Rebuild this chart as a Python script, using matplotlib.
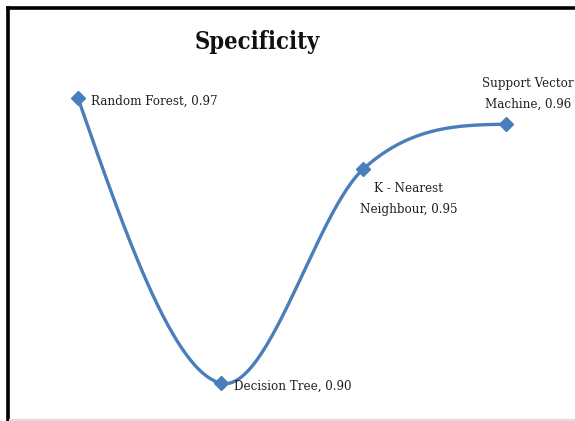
import numpy as np
import matplotlib
matplotlib.use("Agg")
import matplotlib.pyplot as plt
from matplotlib.lines import Line2D

models = ["Random Forest", "Decision Tree", "K - Nearest\nNeighbour", "Support Vector\nMachine"]
specificity = [0.970, 0.900, 0.9526, 0.9636]

BLUE = "#4a7ebb"
W, H = 575, 421

plt.rcParams["font.family"] = ["DejaVu Serif", "Liberation Serif"]
plt.rcParams["font.stretch"] = "condensed"


def smooth_curve(xs, ys, steps=60):
    # cubic Hermite pieces: central-difference tangents inside, natural ends
    pts = np.column_stack([xs, ys]).astype(float)
    n = len(pts)
    m = np.zeros_like(pts)
    for i in range(1, n - 1):
        m[i] = (pts[i + 1] - pts[i - 1]) / 2
    m[0] = (3 * (pts[1] - pts[0]) - m[1]) / 2
    m[-1] = (3 * (pts[-1] - pts[-2]) - m[-2]) / 2
    t = np.linspace(0, 1, steps)[:, None]
    out = []
    for i in range(n - 1):
        p1, p2 = pts[i], pts[i + 1]
        c1 = p1 + m[i] / 3
        c2 = p2 - m[i + 1] / 3
        seg = ((1 - t) ** 3) * p1 + 3 * ((1 - t) ** 2) * t * c1 + 3 * (1 - t) * t ** 2 * c2 + t ** 3 * p2
        out.append(seg if i == 0 else seg[1:])
    out = np.vstack(out)
    return out[:, 0], out[:, 1]


fig = plt.figure(figsize=(W / 100, H / 100), dpi=100)
ax = fig.add_axes([0, 0, 1, 1])
ax.set_axis_off()

x = np.arange(len(models))
# scale the x axis in pixels per category, y axis so the range fills the frame
ax.set_xlim(-78 / 142.67, -78 / 142.67 + W / 142.67)
ax.set_ylim(0.8907, 0.9941)

cx, cy = smooth_curve(x, specificity)
ax.plot(cx, cy, color=BLUE, lw=2.4, solid_capstyle="round", zorder=2)
ax.plot(x, specificity, linestyle="none", marker="D", markersize=7,
        color=BLUE, zorder=3)

# label placement per point (offset in pixels, alignment)
placements = [
    ((13, -3), "left", "center"),
    ((13, -3), "left", "center"),
    ((45, -13), "center", "top"),
    ((22, 13), "center", "bottom"),
]
for xi, name, val, (off, ha, va) in zip(x, models, specificity, placements):
    label = name + f", {val:.2f}"
    ax.annotate(label, (xi, val), xytext=off, textcoords="offset pixels",
                ha=ha, va=va, fontsize=9.5, color="#222222",
                multialignment="center", linespacing=1.85)

fig.text(257 / W, 1 - 42 / H, "Specificity", ha="center", va="center",
         fontsize=17, fontweight="bold", color="#111111")

# frame lines along the top and left, light rule at the bottom
fig.add_artist(Line2D([7.5 / W, 7.5 / W], [0, 1 - 7.5 / H], transform=fig.transFigure,
                      color="black", lw=2.6))
fig.add_artist(Line2D([7.5 / W, 1], [1 - 7.5 / H, 1 - 7.5 / H], transform=fig.transFigure,
                      color="black", lw=2.6))
fig.add_artist(Line2D([10 / W, 1], [1.5 / H, 1.5 / H], transform=fig.transFigure,
                      color="#dddddd", lw=1.5))

fig.savefig("out.png", dpi=100, facecolor="white")
